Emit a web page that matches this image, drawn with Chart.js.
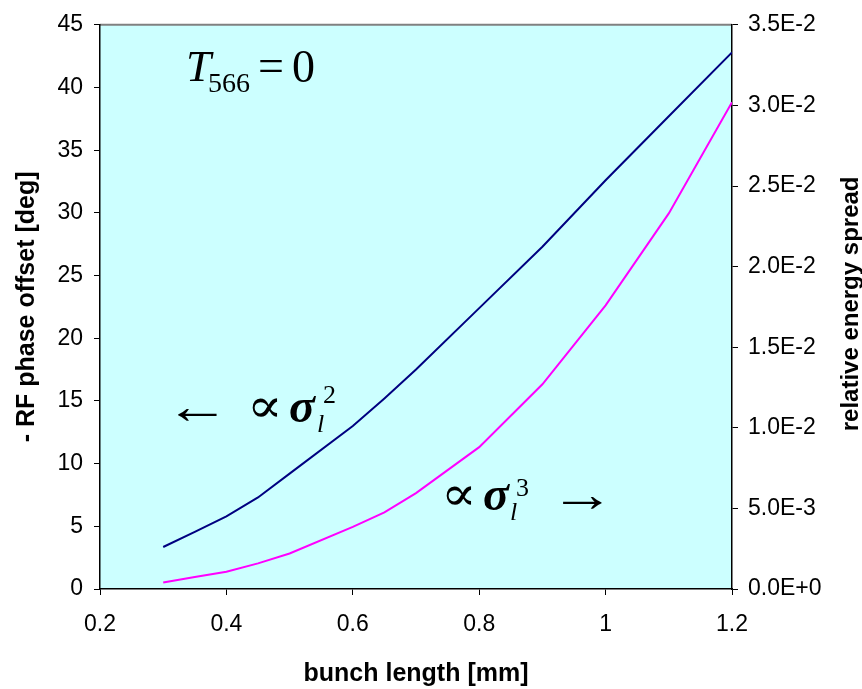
<!DOCTYPE html>
<html>
<head>
<meta charset="utf-8">
<script src="https://cdn.jsdelivr.net/npm/chart.js@4.4.0/dist/chart.umd.min.js"></script>
<style>
  html, body { margin: 0; padding: 0; background: #fff; }
  #wrap { width: 862px; height: 689px; }
</style>
</head>
<body>
<div id="wrap"><canvas id="chart" width="862" height="689"></canvas></div>
<script>
// bunch length [mm]
const bunchLength = [0.3, 0.35, 0.4, 0.45, 0.5, 0.6, 0.65, 0.7, 0.8, 0.9, 1.0, 1.1, 1.2];
// - RF phase offset [deg] (left axis)
const phaseOffset = [3.35, 4.55, 5.8, 7.3, 9.2, 13.0, 15.2, 17.5, 22.4, 27.3, 32.6, 37.7, 42.8];
// relative energy spread (right axis)
const energySpread = [4.0e-4, 7.5e-4, 1.07e-3, 1.59e-3, 2.2e-3, 3.85e-3, 4.75e-3, 5.95e-3, 8.8e-3, 1.27e-2, 1.76e-2, 2.33e-2, 3.02e-2];

const xTicks = [0.2, 0.4, 0.6, 0.8, 1, 1.2];

const sans = '"Liberation Sans", Arial, sans-serif';
const serif = '"Liberation Serif", "DejaVu Serif", serif';

const toPoints = (xs, ys) => xs.map((x, i) => ({ x: x, y: ys[i] }));

// cyan plot background + grey top border
const plotBg = {
  id: 'plotBg',
  beforeDraw(chart) {
    const { ctx, chartArea: a } = chart;
    ctx.save();
    ctx.fillStyle = '#CCFFFF';
    ctx.fillRect(a.left, a.top, a.right - a.left, a.bottom - a.top);
    ctx.strokeStyle = '#808080';
    ctx.lineWidth = 2;
    ctx.beginPath();
    ctx.moveTo(a.left, a.top);
    ctx.lineTo(a.right, a.top);
    ctx.stroke();
    ctx.restore();
  }
};

// formula labels and right axis title
const notes = {
  id: 'notes',
  afterDraw(chart) {
    const ctx = chart.ctx;
    ctx.save();
    ctx.fillStyle = '#000';
    ctx.textBaseline = 'alphabetic';
    ctx.textAlign = 'left';
    const txt = (s, x, y, f, sx) => {
      ctx.save();
      ctx.translate(x, y);
      ctx.scale(sx || 1, 1);
      ctx.font = f;
      ctx.fillText(s, 0, 0);
      ctx.restore();
    };

    // T_566 = 0
    txt('T', 186, 81, 'italic 45px ' + serif);
    txt('566', 208, 92, '28px ' + serif);
    txt('=', 258, 81, '46px ' + serif);
    txt('0', 292, 82, '46px ' + serif);

    // <- prop sigma_l^2
    txt('\u2190', 165, 423, '50px ' + serif, 1.3);
    txt('\u221D', 247, 422, '48px ' + serif, 1.1);
    txt('\u03C3', 289, 422, 'italic bold 48px ' + serif);
    txt('l', 317, 432, 'italic 26px ' + serif);
    txt('2', 323, 403, '26px ' + serif);

    // prop sigma_l^3 ->
    txt('\u221D', 441, 510, '48px ' + serif, 1.1);
    txt('\u03C3', 483, 510, 'italic bold 48px ' + serif);
    txt('l', 510, 520, 'italic 26px ' + serif);
    txt('3', 516, 496, '26px ' + serif);
    txt('\u2192', 550, 511, '50px ' + serif, 1.3);

    // right axis title, reading bottom to top
    const a = chart.chartArea;
    ctx.translate(851, (a.top + a.bottom) / 2 - 3);
    ctx.rotate(-Math.PI / 2);
    ctx.textAlign = 'center';
    ctx.textBaseline = 'middle';
    ctx.font = 'bold 24px ' + sans;
    ctx.fillText('relative energy spread', 0, 0);
    ctx.restore();
  }
};

new Chart(document.getElementById('chart'), {
  type: 'line',
  data: {
    datasets: [{
      label: 'phase offset',
      data: toPoints(bunchLength, phaseOffset),
      borderColor: '#000080',
      borderWidth: 2,
      pointRadius: 0,
      tension: 0,
      yAxisID: 'y'
    }, {
      label: 'energy spread',
      data: toPoints(bunchLength, energySpread),
      borderColor: '#FF00FF',
      borderWidth: 2,
      pointRadius: 0,
      tension: 0,
      yAxisID: 'y2'
    }]
  },
  options: {
    responsive: false,
    animation: false,
    layout: { padding: { top: 22, left: 0, right: 0, bottom: 0 } },
    plugins: {
      legend: { display: false },
      tooltip: { enabled: false }
    },
    scales: {
      x: {
        type: 'linear',
        min: 0.2,
        max: 1.2,
        afterBuildTicks: (s) => { s.ticks = xTicks.map(v => ({ value: v })); },
        afterFit: (s) => { s.height = 100; },
        grid: { drawOnChartArea: false, drawTicks: true, tickLength: 6, color: '#000', lineWidth: 1 },
        border: { display: true, color: '#000', width: 1.5 },
        ticks: {
          color: '#000',
          font: { family: sans, size: 23 },
          padding: 16,
          maxRotation: 0,
          callback: (v) => String(Number(v.toFixed(1)))
        },
        title: {
          display: true,
          text: 'bunch length [mm]',
          color: '#000',
          font: { family: sans, size: 25, weight: 'bold' },
          padding: { top: 0, bottom: 0 }
        }
      },
      y: {
        position: 'left',
        min: 0,
        max: 45,
        ticks: {
          stepSize: 5,
          color: '#000',
          font: { family: sans, size: 23 },
          padding: 11
        },
        afterFit: (s) => { s.width = 100; },
        grid: { drawOnChartArea: false, drawTicks: true, tickLength: 6, color: '#000', lineWidth: 1 },
        border: { display: true, color: '#000', width: 1.5 },
        title: {
          display: true,
          text: '- RF phase offset [deg]',
          color: '#000',
          font: { family: sans, size: 25, weight: 'bold' },
          padding: { top: 12, bottom: 0 }
        }
      },
      y2: {
        position: 'right',
        min: 0,
        max: 0.035,
        ticks: {
          stepSize: 0.005,
          color: '#000',
          font: { family: sans, size: 23 },
          padding: 10,
          callback: (v) => Number(v).toExponential(1).toUpperCase()
        },
        afterFit: (s) => { s.width = 130; },
        grid: { drawOnChartArea: false, drawTicks: true, tickLength: 6, color: '#000', lineWidth: 1 },
        border: { display: true, color: '#000', width: 1.5 }
      }
    }
  },
  plugins: [plotBg, notes]
});
</script>
</body>
</html>
